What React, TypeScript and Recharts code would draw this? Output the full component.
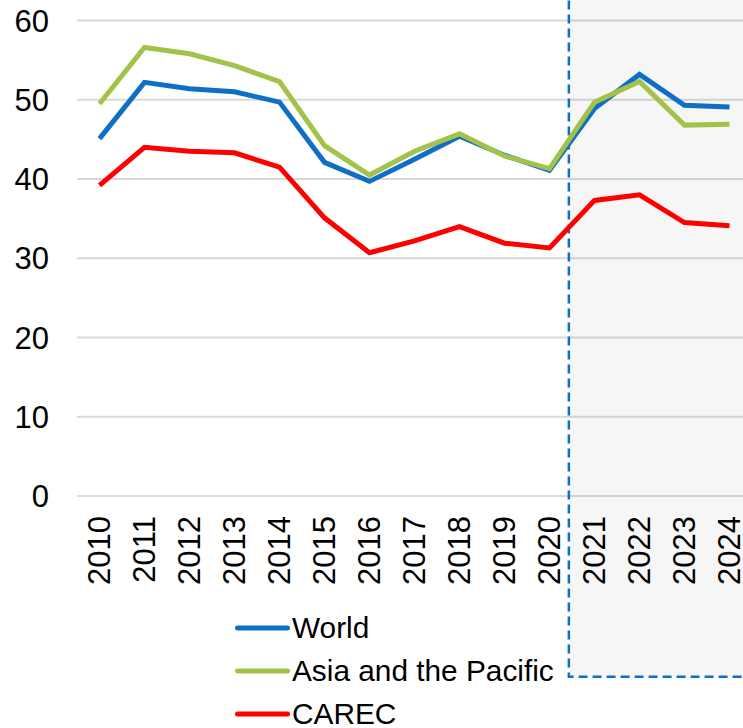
import React from 'react';
import { LineChart, Line, XAxis, YAxis, CartesianGrid, ReferenceArea, Legend } from 'recharts';

const years = [2010, 2011, 2012, 2013, 2014, 2015, 2016, 2017, 2018, 2019, 2020, 2021, 2022, 2023, 2024];
const world = [45.1, 52.2, 51.4, 51.0, 49.7, 42.1, 39.7, 42.5, 45.4, 43.0, 41.1, 48.9, 53.2, 49.3, 49.1];
const asia = [49.5, 56.6, 55.8, 54.3, 52.3, 44.2, 40.5, 43.5, 45.7, 42.9, 41.3, 49.7, 52.3, 46.8, 46.9];
const carec = [39.2, 44.0, 43.5, 43.3, 41.5, 35.1, 30.7, 32.2, 34.0, 31.9, 31.3, 37.3, 38.0, 34.5, 34.1];
const yTicks = [0, 10, 20, 30, 40, 50, 60];

const seriesInfo = [
  { key: 'world', name: 'World', color: '#0F6FC6' },
  { key: 'asia', name: 'Asia and the Pacific', color: '#A2C24A' },
  { key: 'carec', name: 'CAREC', color: '#FF0000' },
];

const data = years.map((y, i) => ({ year: y, world: world[i], asia: asia[i], carec: carec[i] }));

const FONT = '"Liberation Sans", Arial, sans-serif';

const XTick = (props: any) => {
  const { x, y, payload } = props;
  const ty = y + 20;
  return (
    <text
      x={x}
      y={ty}
      transform={`rotate(-90 ${x} ${ty})`}
      textAnchor="end"
      dominantBaseline="central"
      fontFamily={FONT}
      fontSize={31}
      fill="#000"
    >
      {payload.value}
    </text>
  );
};

const LegendContent = () => (
  <div style={{ height: 122, width: 340, overflow: 'visible', fontFamily: FONT, fontSize: 29.8, color: '#000' }}>
    {seriesInfo.map((s) => (
      <div key={s.key} style={{ display: 'flex', alignItems: 'center', height: 43, whiteSpace: 'nowrap' }}>
        <svg width={57} height={10} style={{ display: 'block', flex: 'none' }}>
          <line x1={2.5} y1={5} x2={52.5} y2={5} stroke={s.color} strokeWidth={5} strokeLinecap="round" />
        </svg>
        <span style={{ lineHeight: 1 }}>{s.name}</span>
      </div>
    ))}
  </div>
);

export default function App() {
  return (
    <div style={{ position: 'absolute', left: 0, top: 0, width: 743, height: 728, overflow: 'hidden', background: '#fff' }}>
      <LineChart width={752} height={728} data={data} margin={{ top: 20.5, right: 0, bottom: 0, left: 0 }}>
        <CartesianGrid vertical={false} stroke="#d9d9d9" strokeWidth={2} />
        <ReferenceArea
          x1={2020.43}
          x2={2026}
          y1={-22.8}
          y2={70}
          ifOverflow="visible"
          fill="#000"
          fillOpacity={0.035}
          stroke="#0F6FC6"
          strokeWidth={2.5}
          strokeDasharray="9 5"
        />
        <XAxis
          dataKey="year"
          type="number"
          domain={[2009.5, 2024.5]}
          ticks={years}
          interval={0}
          height={110}
          tickSize={0}
          tickMargin={0}
          axisLine={false}
          tickLine={false}
          tick={<XTick />}
        />
        <YAxis
          domain={[0, 60]}
          ticks={yTicks}
          width={77}
          tickSize={0}
          tickMargin={28}
          axisLine={false}
          tickLine={false}
          tick={{ fontFamily: FONT, fontSize: 31, fill: '#000' }}
        />
        {seriesInfo.map((s) => (
          <Line
            key={s.key}
            dataKey={s.key}
            name={s.name}
            stroke={s.color}
            strokeWidth={5}
            dot={false}
            activeDot={false}
            type="linear"
            isAnimationActive={false}
          />
        ))}
        <Legend
          verticalAlign="bottom"
          align="left"
          layout="horizontal"
          wrapperStyle={{ left: 235, width: 340 }}
          content={<LegendContent />}
        />
      </LineChart>
    </div>
  );
}
